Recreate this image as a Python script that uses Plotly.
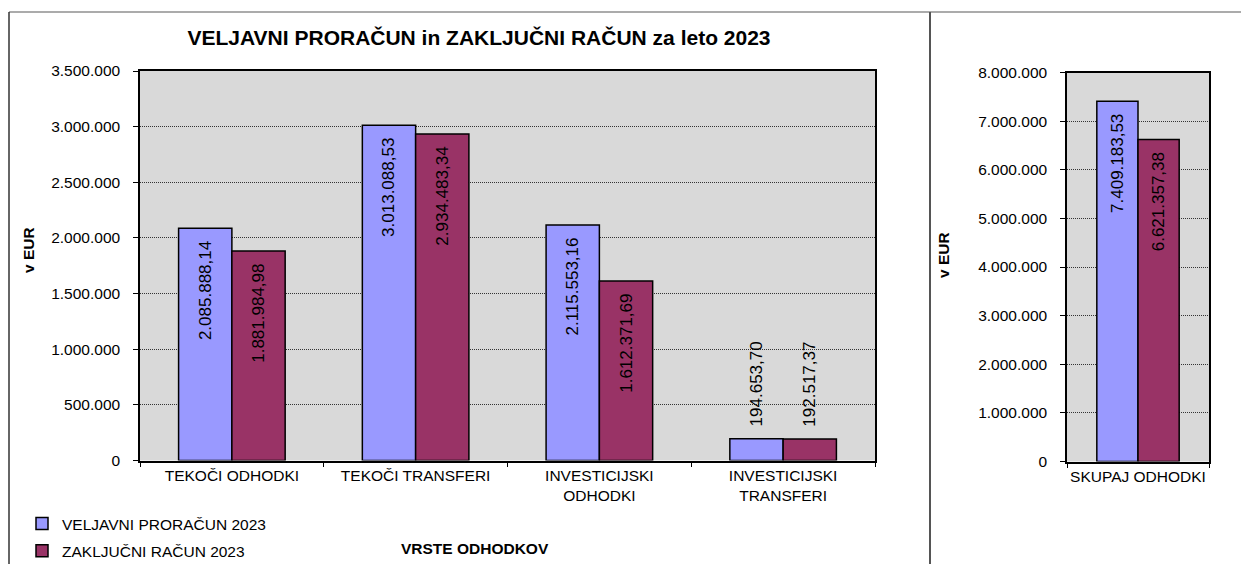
import plotly.graph_objects as go

W, H = 1241, 564

categories = ["TEKOČI ODHODKI", "TEKOČI TRANSFERI", "INVESTICIJSKI<br>ODHODKI", "INVESTICIJSKI<br>TRANSFERI"]
veljavni = [2085888.14, 3013088.53, 2115553.16, 194653.70]
zakljucni = [1881984.98, 2934483.34, 1612371.69, 192517.37]

total_category = ["SKUPAJ ODHODKI"]
veljavni_total = [7409183.53]
zakljucni_total = [6621357.38]

series_names = ["VELJAVNI PRORAČUN 2023", "ZAKLJUČNI RAČUN 2023"]
title_text = "VELJAVNI PRORAČUN in ZAKLJUČNI RAČUN za leto 2023"
y_title = "v EUR"
x_title = "VRSTE ODHODKOV"

BLUE = "#9999FF"
MAROON = "#993366"
FONT = "Liberation Sans, Arial, sans-serif"


def px(x):
    return x / W


def py(y):
    return 1 - y / H


def positions(vals, limit):
    return ["inside" if v > limit else "outside" for v in vals]


def templates(vals, limit):
    nb = "\u00a0\u00a0"
    return [("%{y:,.2f}" + nb) if v > limit else (nb + "%{y:,.2f}") for v in vals]


fig = go.Figure()

for name, vals, col in [(series_names[0], veljavni, BLUE), (series_names[1], zakljucni, MAROON)]:
    fig.add_trace(go.Bar(
        x=categories, y=vals, name=name, legendgroup=name,
        marker=dict(color=col, line=dict(color="black", width=1.5)),
        textposition=positions(vals, 600000),
        texttemplate=templates(vals, 600000),
        textangle=-90, insidetextanchor="end", constraintext="none",
        textfont=dict(size=17, color="black", family=FONT),
        cliponaxis=False, xaxis="x", yaxis="y",
    ))

for name, vals, col in [(series_names[0], veljavni_total, BLUE), (series_names[1], zakljucni_total, MAROON)]:
    fig.add_trace(go.Bar(
        x=total_category, y=vals, name=name, legendgroup=name, showlegend=False,
        marker=dict(color=col, line=dict(color="black", width=1.5)),
        textposition=positions(vals, 1000000),
        texttemplate=templates(vals, 1000000),
        textangle=-90, insidetextanchor="end", constraintext="none",
        textfont=dict(size=17, color="black", family=FONT),
        cliponaxis=False, xaxis="x2", yaxis="y2",
    ))

axis_common = dict(
    showline=True, mirror=True, linecolor="black", linewidth=1.5, automargin=False,
    tickfont=dict(size=15.5, color="black", family=FONT),
)
xcommon = dict(axis_common, ticks="outside", tickson="boundaries", ticklen=5,
               tickcolor="black", showgrid=False, tickangle=0)
ycommon = dict(axis_common, ticks="outside", ticklen=5, tickcolor="black",
               showgrid=True, gridcolor="#333333", griddash="1px,1px", gridwidth=1,
               zeroline=False, tickformat=",.0f", ticklabelstandoff=10)

fig.update_layout(
    width=W, height=H, autosize=False,
    margin=dict(l=0, r=0, t=0, b=0, pad=0, autoexpand=False),
    paper_bgcolor="white", plot_bgcolor="#D9D9D9",
    separators=",.",
    barmode="group", bargap=0.42, bargroupgap=0,
    font=dict(family=FONT, color="black", size=15.5),
    title=dict(text="<b>" + title_text + "</b>", x=px(479), xanchor="center",
               y=py(38), yanchor="middle", font=dict(size=21, family=FONT, color="black")),
    xaxis=dict(xcommon, domain=[px(140), px(875)], anchor="y"),
    yaxis=dict(ycommon, domain=[py(460.5), py(71)], range=[0, 3500000], dtick=500000, anchor="x"),
    xaxis2=dict(xcommon, domain=[px(1067), px(1209)], anchor="y2"),
    yaxis2=dict(ycommon, domain=[py(461.5), py(72.5)], range=[0, 8000000], dtick=1000000, anchor="x2"),
    legend=dict(orientation="v", x=px(22), y=py(507), xanchor="left", yanchor="top",
                traceorder="grouped", tracegroupgap=4, itemwidth=30,
                font=dict(size=15.5, family=FONT, color="black"),
                bgcolor="rgba(0,0,0,0)"),
    showlegend=True,
)

fig.add_annotation(text="<b>" + y_title + "</b>", x=px(29), y=py(250), xref="paper", yref="paper",
                   xanchor="center", yanchor="middle",
                   textangle=-90, showarrow=False, font=dict(size=15.5, family=FONT, color="black"))
fig.add_annotation(text="<b>" + y_title + "</b>", x=px(943), y=py(255), xref="paper", yref="paper",
                   xanchor="center", yanchor="middle",
                   textangle=-90, showarrow=False, font=dict(size=15.5, family=FONT, color="black"))
fig.add_annotation(text="<b>" + x_title + "</b>", x=px(475), y=py(548), xref="paper", yref="paper",
                   xanchor="center", yanchor="middle",
                   showarrow=False, font=dict(size=15.5, family=FONT, color="black"))

# chart frame lines
fig.add_shape(type="line", xref="paper", yref="paper", x0=px(9), x1=1, y0=py(12), y1=py(12),
              line=dict(color="#ABABAB", width=2))
fig.add_shape(type="line", xref="paper", yref="paper", x0=px(9), x1=px(9), y0=py(12), y1=0,
              line=dict(color="#333333", width=1.5))
fig.add_shape(type="line", xref="paper", yref="paper", x0=px(930), x1=px(930), y0=py(12), y1=0,
              line=dict(color="#555555", width=2))

fig.write_html("out.html", config={"displayModeBar": False},
               post_script="document.body.style.margin='0';document.body.style.overflow='hidden';")
